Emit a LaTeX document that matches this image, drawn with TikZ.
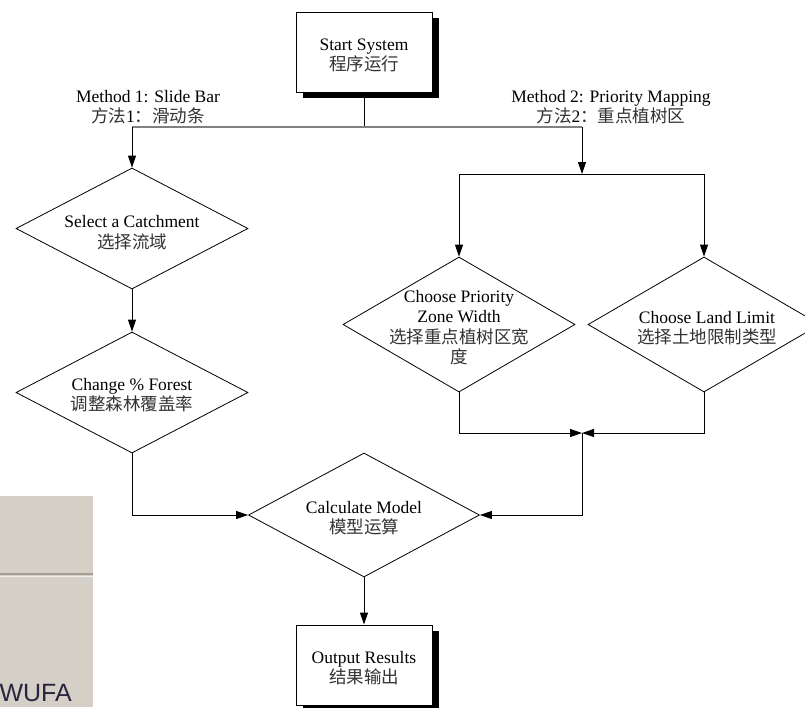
\documentclass[tikz,border=0pt]{standalone}
\usepackage{fontspec}
\setmainfont{Liberation Serif}
\setsansfont{Liberation Sans}
\newfontfamily\cjk{Noto Sans CJK SC}
\usetikzlibrary{shapes.geometric,arrows.meta,shadows}
\definecolor{winbg}{HTML}{D4D0C8}
\definecolor{windark}{HTML}{A29E92}
\definecolor{winlight}{HTML}{F2F0EA}
\definecolor{wintext}{HTML}{2A2440}
\definecolor{linegray}{HTML}{808080}
\definecolor{cjkgray}{HTML}{333333}
\newcommand{\zh}[1]{{\cjk\color{cjkgray}#1}}
\begin{document}
\begin{tikzpicture}[x=1pt,y=-1pt,
  every node/.style={font=\fontsize{17.5}{20.5}\selectfont},
  txt/.style={align=center, inner sep=0pt},
  procbox/.style={draw, fill=white, line width=1pt, minimum width=136pt, minimum height=80pt, inner sep=0pt,
    drop shadow={shadow xshift=7pt, shadow yshift=-6pt, fill=black, opacity=1}},
  decision/.style={draw, shape=diamond, line width=0.8pt, inner sep=0pt, minimum width=232pt},
  arr/.style={line width=1pt, -{Triangle[length=12pt,width=8pt]}},
  conn/.style={line width=1pt},
  grayconn/.style={line width=1.3pt, draw=linegray}
]
\clip (0,0) rectangle (805,707);
\useasboundingbox (0,0) rectangle (805,707);

% fragment of a window at lower left
\fill[winbg] (0,496) rectangle (93,707);
\draw[windark, line width=1.5pt] (0,574) -- (93,574);
\draw[winlight, line width=1pt] (0,576.5) -- (93,576.5);
\node[font=\sffamily\fontsize{25}{25}\selectfont, text=wintext, anchor=base east, inner sep=0pt] (wufa) at (72,701) {WUFA};

% boxes
\node[procbox] (start) at (364,52) {};
\node[txt] (starttxt) at ([yshift=-3.5pt]start.center) {Start System\\\zh{程序运行}};
\node[procbox] (out) at (364,665) {};
\node[txt] (outtxt) at ([yshift=-3pt]out.center) {Output Results\\\zh{结果输出}};

% decisions
\node[decision, minimum height=121pt] (sel) at (132,228.5) {};
\node[txt] (seltxt) at ([yshift=-4pt]sel.center) {Select a Catchment\\\zh{选择流域}};
\node[decision, minimum height=121pt] (chg) at (132,392.5) {};
\node[txt] (chgtxt) at ([yshift=-2.5pt]chg.center) {Change \% Forest\\\zh{调整森林覆盖率}};
\node[decision, minimum width=231pt, minimum height=124pt] (calc) at (364,515) {};
\node[txt] (calctxt) at ([yshift=-3pt]calc.center) {Calculate Model\\\zh{模型运算}};
\node[decision, minimum height=135pt] (pri) at (459,324.5) {};
\node[txt] (pritxt) at ([yshift=-3pt]pri.center) {Choose Priority\\Zone Width\\\zh{选择重点植树区宽}\\\zh{度}};
\node[decision, minimum height=135pt] (land) at (704,324.5) {};
\node[txt] (landtxt) at ([xshift=3pt,yshift=-3.5pt]land.center) {Choose Land Limit\\\zh{选择土地限制类型}};

% method labels
\node[txt] (m1lab) at (148,107) {Method 1: Slide Bar\\\zh{方法}1\zh{：滑动条}};
\node[txt] (m2lab) at (611,107) {Method 2: Priority Mapping\\\zh{方法}2\zh{：重点植树区}};

% coordinates
\coordinate (split) at (364,127);
\coordinate (m1top) at (132,127);
\coordinate (m2top) at (582,127);
\coordinate (m2split) at (582,174);
\coordinate (prisplit) at (459,174);
\coordinate (landsplit) at (704,174);
\coordinate (join) at (582,433);

% connectors
\draw[conn] (start.south) -- (split);
\draw[grayconn] (m1top) -- (m2top);
\draw[arr] (m1top) -- (sel.north);
\draw[arr] (m2top) -- (m2split);
\draw[conn] (prisplit) -- (landsplit);
\draw[arr] (prisplit) -- (pri.north);
\draw[arr] (landsplit) -- (land.north);
\draw[arr] (sel.south) -- (chg.north);
\draw[arr] (chg.south) |- (calc.west);
\draw[arr] (pri.south) |- (join);
\draw[arr] (land.south) |- (join);
\draw[arr] (join) |- (calc.east);
\draw[arr] (calc.south) -- (out.north);
\end{tikzpicture}
\end{document}
